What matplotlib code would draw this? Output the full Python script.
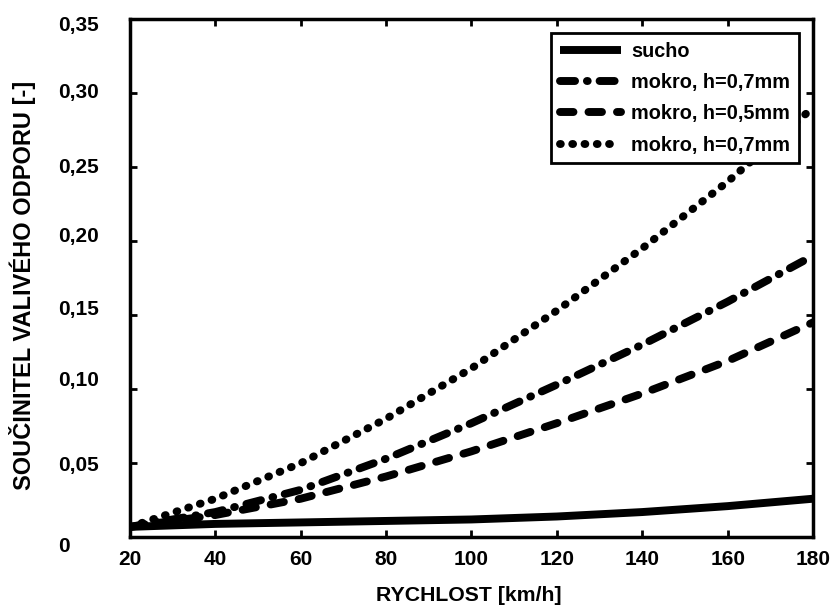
import matplotlib
matplotlib.use("Agg")
import matplotlib.pyplot as plt
from matplotlib.font_manager import FontProperties
from matplotlib.transforms import ScaledTranslation

speed = [20, 40, 60, 80, 100, 120, 140, 160, 180]
sucho = [0.007, 0.009, 0.010, 0.011, 0.012, 0.014, 0.017, 0.021, 0.026]
mokro_07_dd = [0.007, 0.017, 0.032, 0.053, 0.077, 0.103, 0.130, 0.159, 0.190]
mokro_05 = [0.007, 0.015, 0.026, 0.041, 0.058, 0.077, 0.097, 0.119, 0.145]
mokro_07_dot = [0.007, 0.026, 0.050, 0.080, 0.114, 0.153, 0.195, 0.240, 0.290]
labels = ["sucho", "mokro, h=0,7mm", "mokro, h=0,5mm", "mokro, h=0,7mm"]
yticks = [0, 0.05, 0.10, 0.15, 0.20, 0.25, 0.30, 0.35]
ytick_labels = ["0", "0,05", "0,10", "0,15", "0,20", "0,25", "0,30", "0,35"]
xticks = [20, 40, 60, 80, 100, 120, 140, 160, 180]

fig = plt.figure(figsize=(8.33, 6.05), dpi=100)
ax = fig.add_axes([0.156, 0.112, 0.820, 0.857])

lw = 5.7
ax.plot(speed, sucho, color="black", lw=lw, solid_capstyle="butt", label=labels[0])
ax.plot(speed, mokro_07_dd, color="black", lw=lw, linestyle=(0, (1.9, 1.5, 0.1, 1.5)),
        dash_capstyle="round", label=labels[1])
ax.plot(speed, mokro_05, color="black", lw=lw, linestyle=(0, (1.7, 1.9)),
        dash_capstyle="round", label=labels[2])
ax.plot(speed, mokro_07_dot, color="black", lw=lw, linestyle=(0, (0.1, 1.45)),
        dash_capstyle="round", label=labels[3])

ax.set_xlim(20, 180)
ax.set_ylim(0, 0.35)
ax.set_xticks(xticks)
ax.set_yticks(yticks)
ax.set_yticklabels(ytick_labels)

fam = ["Liberation Sans", "DejaVu Sans"]
xtf = FontProperties(family=fam, weight="bold", size=15)
ytf = FontProperties(family=fam, weight="bold", size=15)
for t in ax.get_xticklabels():
    t.set_fontproperties(xtf)
for t in ax.get_yticklabels():
    t.set_fontproperties(ytf)
    t.set_horizontalalignment("left")

ax.tick_params(direction="in", length=5, width=2, top=True, right=True)
ax.tick_params(axis="x", pad=9)
ax.tick_params(axis="y", pad=52)
for s in ax.spines.values():
    s.set_linewidth(2.5)

# small per-label vertical shifts (pixels, + = down) as in the reference
label_shift = [7, 0, -11, -8, -6, -1, -2, 5]
for t, d in zip(ax.get_yticklabels(), label_shift):
    t.set_transform(t.get_transform() + ScaledTranslation(0, -d / 100.0, fig.dpi_scale_trans))

ax.set_xlabel("RYCHLOST [km/h]", fontproperties=FontProperties(family=fam, weight="bold", size=15.3))
ax.xaxis.set_label_coords(0.496, -0.094)
ax.set_ylabel("SOUČINITEL VALIVÉHO ODPORU [-]",
              fontproperties=FontProperties(family=fam, weight="bold", size=17))
ax.yaxis.set_label_coords(-0.137, 0.486)

leg = ax.legend(loc="upper right", prop=FontProperties(family=fam, weight="bold", size=14.3),
                frameon=True, fancybox=False, edgecolor="black", framealpha=1.0,
                handlelength=3.1, borderaxespad=0.7, labelspacing=0.62,
                handletextpad=0.5, borderpad=0.45)
leg.get_frame().set_linewidth(2)
leg.set_zorder(10)

fig.savefig("out.png", dpi=100, facecolor="white")
